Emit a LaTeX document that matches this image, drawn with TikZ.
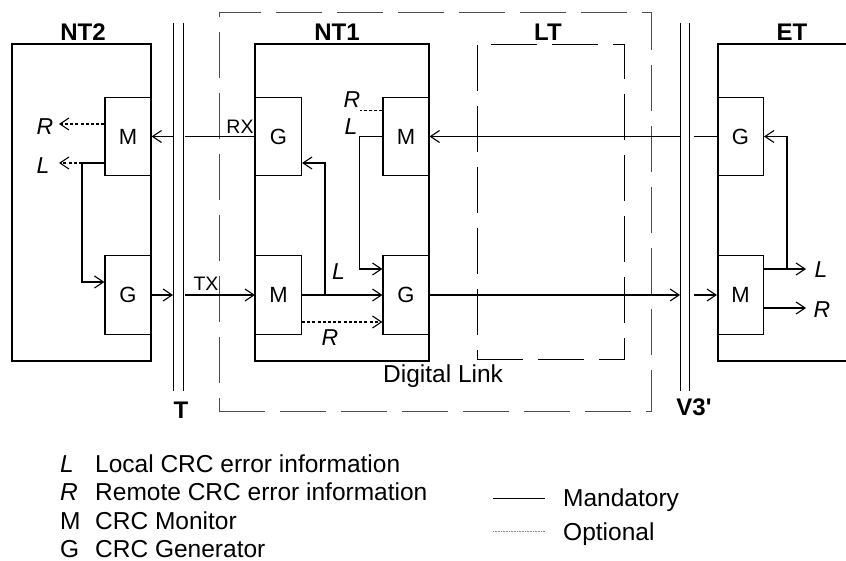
\documentclass[tikz,border=0pt]{standalone}
\usepackage{fontspec}
\setmainfont{Liberation Sans}
\newfontfamily\nolig{Liberation Sans}[Ligatures=TeXOff]
\usetikzlibrary{arrows.meta}
\begin{document}
\begin{tikzpicture}[x=1pt,y=-1pt,
  ln/.style={line width=1.1pt},
  blk/.style={draw, line width=1.1pt, minimum width=46pt, minimum height=78.5pt, inner sep=0pt, font=\fontsize{22}{26}\selectfont},
  unit/.style={draw, line width=1.1pt, inner sep=0pt},
  arr/.style={line width=1.1pt, -{Straight Barb[length=9pt,width=12pt,line width=1.1pt]}},
  opt/.style={dash pattern=on 3pt off 2.2pt},
  ttl/.style={font=\fontsize{24}{28}\selectfont\bfseries, inner sep=0pt, anchor=base},
  lab/.style={font=\fontsize{23}{27}\selectfont\itshape, inner sep=0pt, anchor=base},
  sm/.style={font=\fontsize{19.5}{23}\selectfont, inner sep=0pt, anchor=base},
  txt/.style={font=\fontsize{24.5}{28}\selectfont, inner sep=0pt, anchor=base west},
  bar/.style={line width=1pt},
  ldash/.style={dash pattern=on 46pt off 15pt}
]
\useasboundingbox (0,0) rectangle (846,561);

% outer dashed Digital Link box and LT box
\node[draw, black!70, line width=1pt, ldash, minimum width=432pt, minimum height=398pt, inner sep=0pt] (DL) at (435,212) {};
\node[draw, line width=0.9pt, ldash, minimum width=147pt, minimum height=315pt, inner sep=0pt] (LT) at (550.5,201.5) {};

% units
\node[unit, minimum width=139pt, minimum height=317pt] (NT2) at (81.5,202.5) {};
\node[unit, minimum width=174pt, minimum height=317pt] (NT1) at (342,202.5) {};
\coordinate (ETa) at (846,44);
\coordinate (ETb) at (718,44);
\coordinate (ETc) at (718,361);
\coordinate (ETd) at (846,361);
\draw[ln] (ETa) -- (ETb) -- (ETc) -- (ETd);

% titles
\node[ttl] (tNT2) at (83,40.5) {NT2};
\node[ttl] (tNT1) at (337,40.5) {NT1};
\node[ttl] (tLT) at (548,40.5) {LT};
\node[ttl] (tET) at (792,40.5) {ET};
\node[ttl] (tT) at (181,418) {T};
\node[ttl, font=\fontsize{24}{28}\selectfont\nolig\bfseries] (tV) at (694,415.5) {V3'};
\node[txt] (tDL) at (383,382) {Digital Link};

% interface bars
\coordinate (T1t) at (173,23); \coordinate (T1b) at (173,391);
\coordinate (T2t) at (183,23); \coordinate (T2b) at (183,391);
\coordinate (V1t) at (680,23); \coordinate (V1b) at (680,391);
\coordinate (V2t) at (689.3,23); \coordinate (V2b) at (689.3,391);
\draw[bar] (T1t) -- (T1b);
\draw[bar] (T2t) -- (T2b);
\draw[bar] (V1t) -- (V1b);
\draw[bar] (V2t) -- (V2b);
\coordinate (Ta) at (173,0);
\coordinate (Tb) at (185,0);
\coordinate (Va) at (680,0);
\coordinate (Vb) at (694,0);

% blocks
\node[blk] (M2) at (128,136.5) {M};
\node[blk] (G2) at (128,295) {G};
\node[blk] (G1) at (278.5,136.5) {G};
\node[blk] (M1) at (406,136.5) {M};
\node[blk] (M1b) at (278.5,295) {M};
\node[blk] (G1b) at (406,295) {G};
\node[blk] (GE) at (740.5,136.5) {G};
\node[blk] (ME) at (740.5,295) {M};

% NT2 internals
\coordinate (R2end) at (59,124);
\coordinate (L2end) at (59,163);
\coordinate (L2k) at (82,163);
\draw[arr, opt] ([yshift=12.5pt]M2.west) -- (R2end);
\draw[ln] ([yshift=-26.5pt]M2.west) -- (L2k);
\draw[arr, opt] (L2k) -- (L2end);
\draw[arr] (L2k) |- ([yshift=13pt]G2.west);
\node[lab] (lR2) at (45,135) {R};
\node[lab] (lL2) at (43,173.3) {L};

% RX / TX across T
\draw[ln] (G1.west) -- (G1.west -| Tb);
\draw[arr] (G1.west -| Ta) -- (M2.east);
\draw[arr] (G2.east) -- (G2.east -| Ta);
\draw[arr] (G2.east -| Tb) -- (M1b.west);
\node[sm] (lRX) at (240,134) {RX};
\node[sm] (lTX) at (206,290.7) {TX};

% NT1 internals
\coordinate (B1) at (325,295);
\draw[arr] (M1b.east) -- (G1b.west);
\draw[arr] (B1) |- ([yshift=-26.5pt]G1.east);
\draw[arr, opt] ([yshift=-27pt]M1b.east) -- ([yshift=-27pt]G1b.west);
\coordinate (L1k) at (359.5,136.5);
\coordinate (R1end) at (359.5,110.5);
\draw[ln] (M1.west) -- (L1k);
\draw[arr] (L1k) |- ([yshift=26pt]G1b.west);
\draw[ln, opt] ([yshift=26pt]M1.west) -- (R1end);
\node[lab] (lR1t) at (352,108) {R};
\node[lab] (lL1t) at (351,135) {L};
\node[lab] (lL1b) at (338.5,279.3) {L};
\node[lab] (lR1b) at (330,345) {R};

% across V3'
\draw[ln] (GE.west) -- (GE.west -| Vb);
\draw[arr] (GE.west -| Va) -- (M1.east);
\draw[arr] (G1b.east) -- (G1b.east -| Va);
\draw[arr] (G1b.east -| Vb) -- (ME.west);

% ET internals
\coordinate (LEk) at (787,269);
\coordinate (LEend) at (806,269);
\coordinate (REend) at (806,308);
\draw[arr] ([yshift=26pt]ME.east) -- (LEend);
\draw[arr] (LEk) |- (GE.east);
\draw[arr] ([yshift=-13pt]ME.east) -- (REend);
\node[lab] (lLE) at (821,278) {L};
\node[lab] (lRE) at (822,318) {R};

% legend
\node[txt, font=\fontsize{24.5}{28}\selectfont\itshape] (kL) at (60,472) {L};
\node[txt] (kLt) at (95,472) {Local CRC error information};
\node[txt, font=\fontsize{24.5}{28}\selectfont\itshape] (kR) at (60,500.5) {R};
\node[txt] (kRt) at (95,500.5) {Remote CRC error information};
\node[txt] (kM) at (60,529) {M};
\node[txt] (kMt) at (95,529) {CRC Monitor};
\node[txt] (kG) at (60,557.5) {G};
\node[txt] (kGt) at (95,557.5) {CRC Generator};
\draw[line width=1pt] (493,498) -- (545,498);
\node[txt] (kMan) at (563,506.5) {Mandatory};
\draw[gray, line width=0.7pt, dash pattern=on 1pt off 0.6pt] (493,531) -- (545,531);
\node[txt] (kOpt) at (563,540) {Optional};
\end{tikzpicture}
\end{document}
